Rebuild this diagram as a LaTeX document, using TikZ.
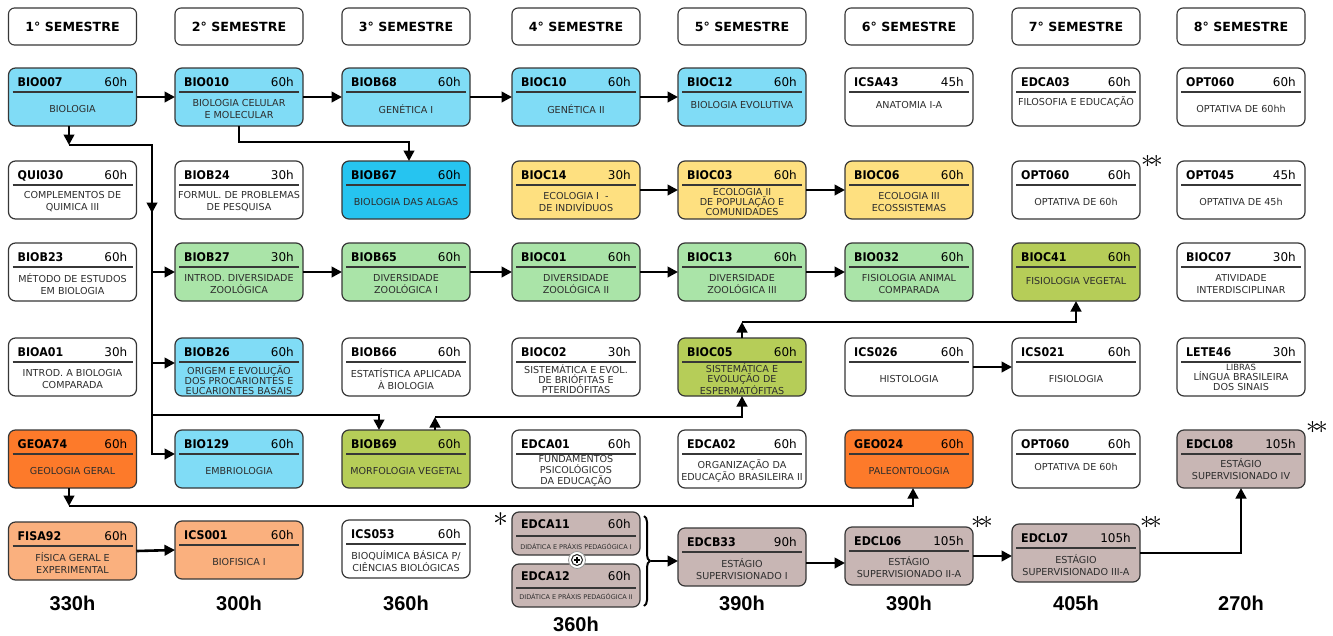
\documentclass[tikz,border=0pt]{standalone}
\usepackage{fontspec}
\setmainfont{DejaVu Sans}
\newfontfamily\codefont[FakeStretch=0.92]{DejaVu Sans}
\newfontfamily\totfont{Liberation Sans}
\usetikzlibrary{arrows.meta,decorations.pathreplacing,calc}

\definecolor{cblue}{RGB}{128,220,246}
\definecolor{cdeep}{RGB}{38,196,240}
\definecolor{cyel}{RGB}{254,224,128}
\definecolor{cgreen}{RGB}{170,228,168}
\definecolor{colive}{RGB}{182,205,88}
\definecolor{corange}{RGB}{253,122,42}
\definecolor{cpeach}{RGB}{250,176,126}
\definecolor{cmauve}{RGB}{200,182,180}
\definecolor{cborder}{RGB}{55,55,55}
\definecolor{ctext}{RGB}{45,45,45}

\tikzset{
 box/.style={draw=cborder, line width=1.2pt, rounded corners=7pt, minimum width=128pt, minimum height=58pt, inner sep=0pt, outer sep=0pt},
 smallbox/.style={box, minimum height=43pt, fill=cmauve},
 head/.style={draw=cborder, line width=1.1pt, rounded corners=6pt, minimum width=128pt, minimum height=37pt, inner sep=0pt, fill=white, font=\bfseries\fontsize{12.6}{14}\selectfont},
 codet/.style={inner sep=0pt, font=\codefont\bfseries\fontsize{12}{14}\selectfont},
 hrst/.style={inner sep=0pt, font=\fontsize{12}{14}\selectfont},
 desct/.style={inner sep=0pt, align=center, text=ctext, font=\fontsize{9.6}{12}\selectfont},
 tri/.style={font=\fontsize{9.6}{10}\selectfont},
 tiny/.style={font=\fontsize{6.5}{8}\selectfont},
 sepline/.style={draw=cborder, line width=1.3pt},
 conn/.style={draw=black, line width=2.6pt, -{Triangle[length=10.5pt,width=10.5pt]}},
 tot/.style={inner sep=0pt, font=\totfont\bfseries\fontsize{20}{22}\selectfont},
 stars/.style={inner sep=0pt, scale=2.6},
}

% #1 desc options, #2 name, #3 x, #4 top y, #5 fill, #6 code, #7 hours, #8 description
\newcommand\mkcourse[8][]{%
 \node[box, fill=#5, anchor=north] (#2) at (#3,#4) {};
 \node[codet, anchor=base west] (#2-c) at ([shift={(9pt,-18pt)}]#2.north west) {#6};
 \node[hrst, anchor=base east] (#2-h) at ([shift={(-9pt,-18pt)}]#2.north east) {#7};
 \draw[sepline] ([shift={(4pt,-24pt)}]#2.north west) -- ([shift={(-4pt,-24pt)}]#2.north east);
 \node[desct, #1] (#2-d) at ([yshift=-41pt]#2.north) {#8};
}
% #1 name, #2 x, #3 top y, #4 code, #5 hours, #6 description, #7 desc offset
\newcommand\mksmall[7]{%
 \node[smallbox, anchor=north] (#1) at (#2,#3) {};
 \node[codet, anchor=base west] (#1-c) at ([shift={(9pt,-16pt)}]#1.north west) {#4};
 \node[hrst, anchor=base east] (#1-h) at ([shift={(-9pt,-16pt)}]#1.north east) {#5};
 \draw[sepline] ([shift={(4pt,-24pt)}]#1.north west) -- ([shift={(-4pt,-24pt)}]#1.north east);
 \node[desct, tiny] (#1-d) at ([yshift=-#7]#1.north) {#6};
}

\begin{document}
\begin{tikzpicture}[x=1pt,y=-1pt]
\fill[white] (0,0) rectangle (1333,635);
\useasboundingbox (0,0) rectangle (1333,635);

% headers
\node[head] (h1) at (72.5,26.5) {1° SEMESTRE};
\node[head] (h2) at (239,26.5) {2° SEMESTRE};
\node[head] (h3) at (406,26.5) {3° SEMESTRE};
\node[head] (h4) at (576,26.5) {4° SEMESTRE};
\node[head] (h5) at (742,26.5) {5° SEMESTRE};
\node[head] (h6) at (909,26.5) {6° SEMESTRE};
\node[head] (h7) at (1076,26.5) {7° SEMESTRE};
\node[head] (h8) at (1241,26.5) {8° SEMESTRE};

% row 1
\mkcourse{bio007}{72.5}{68}{cblue}{BIO007}{60h}{BIOLOGIA}
\mkcourse{bio010}{239}{68}{cblue}{BIO010}{60h}{BIOLOGIA CELULAR\\E MOLECULAR}
\mkcourse{biob68}{406}{68}{cblue}{BIOB68}{60h}{GENÉTICA I}
\mkcourse{bioc10}{576}{68}{cblue}{BIOC10}{60h}{GENÉTICA II}
\mkcourse[yshift=4pt]{bioc12}{742}{68}{cblue}{BIOC12}{60h}{BIOLOGIA EVOLUTIVA}
\mkcourse[yshift=4pt]{icsa43}{909}{68}{white}{ICSA43}{45h}{ANATOMIA I-A}
\mkcourse[yshift=7pt]{edca03}{1076}{68}{white}{EDCA03}{60h}{FILOSOFIA E EDUCAÇÃO}
\mkcourse{opt060a}{1241}{68}{white}{OPT060}{60h}{OPTATIVA DE 60hh}

% row 2
\mkcourse{qui030}{72.5}{161}{white}{QUI030}{60h}{COMPLEMENTOS DE\\QUIMICA III}
\mkcourse{biob24}{239}{161}{white}{BIOB24}{30h}{FORMUL. DE PROBLEMAS\\DE PESQUISA}
\mkcourse{biob67}{406}{161}{cdeep}{BIOB67}{60h}{BIOLOGIA DAS ALGAS}
\mkcourse{bioc14}{576}{161}{cyel}{BIOC14}{30h}{ECOLOGIA I\ \ -\\DE INDIVÍDUOS}
\mkcourse[tri]{bioc03}{742}{161}{cyel}{BIOC03}{60h}{ECOLOGIA II\\DE POPULAÇÃO E\\COMUNIDADES}
\mkcourse{bioc06}{909}{161}{cyel}{BIOC06}{60h}{ECOLOGIA III\\ECOSSISTEMAS}
\mkcourse{opt060b}{1076}{161}{white}{OPT060}{60h}{OPTATIVA DE 60h}
\mkcourse{opt045}{1241}{161}{white}{OPT045}{45h}{OPTATIVA DE 45h}

% row 3
\mkcourse{biob23}{72.5}{243}{white}{BIOB23}{60h}{MÉTODO DE ESTUDOS\\EM BIOLOGIA}
\mkcourse{biob27}{239}{243}{cgreen}{BIOB27}{30h}{INTROD. DIVERSIDADE\\ZOOLÓGICA}
\mkcourse{biob65}{406}{243}{cgreen}{BIOB65}{60h}{DIVERSIDADE\\ZOOLÓGICA I}
\mkcourse{bioc01}{576}{243}{cgreen}{BIOC01}{60h}{DIVERSIDADE\\ZOOLÓGICA II}
\mkcourse{bioc13}{742}{243}{cgreen}{BIOC13}{60h}{DIVERSIDADE\\ZOOLÓGICA III}
\mkcourse{bio032}{909}{243}{cgreen}{BIO032}{60h}{FISIOLOGIA ANIMAL\\COMPARADA}
\mkcourse[yshift=3pt]{bioc41}{1076}{243}{colive}{BIOC41}{60h}{FISIOLOGIA VEGETAL}
\mkcourse{bioc07}{1241}{243}{white}{BIOC07}{30h}{ATIVIDADE\\INTERDISCIPLINAR}

% row 4
\mkcourse{bioa01}{72.5}{338}{white}{BIOA01}{30h}{INTROD. A BIOLOGIA\\COMPARADA}
\mkcourse[tri,yshift=-1pt]{biob26}{239}{338}{cblue}{BIOB26}{60h}{ORIGEM E EVOLUÇÃO\\DOS PROCARIONTES E\\EUCARIONTES BASAIS}
\mkcourse{biob66}{406}{338}{white}{BIOB66}{60h}{ESTATÍSTICA APLICADA\\À BIOLOGIA}
\mkcourse[tri]{bioc02}{576}{338}{white}{BIOC02}{30h}{SISTEMÁTICA E EVOL.\\DE BRIÓFITAS E\\PTERIDÓFITAS}
\mkcourse[tri]{bioc05}{742}{338}{colive}{BIOC05}{60h}{SISTEMÁTICA E\\EVOLUÇÃO DE\\ESPERMATÓFITAS}
\mkcourse{ics026}{909}{338}{white}{ICS026}{60h}{HISTOLOGIA}
\mkcourse{ics021}{1076}{338}{white}{ICS021}{60h}{FISIOLOGIA}
\mkcourse[tri,yshift=2pt]{lete46}{1241}{338}{white}{LETE46}{30h}{{\fontsize{8.5}{9}\selectfont LIBRAS}\\LÍNGUA BRASILEIRA\\DOS SINAIS}

% row 5
\mkcourse{geoa74}{72.5}{430}{corange}{GEOA74}{60h}{GEOLOGIA GERAL}
\mkcourse{bio129}{239}{430}{cblue}{BIO129}{60h}{EMBRIOLOGIA}
\mkcourse{biob69}{406}{430}{colive}{BIOB69}{60h}{MORFOLOGIA VEGETAL}
\mkcourse[font=\fontsize{9.6}{11}\selectfont]{edca01}{576}{430}{white}{EDCA01}{60h}{FUNDAMENTOS\\PSICOLÓGICOS\\DA EDUCAÇÃO}
\mkcourse{edca02}{742}{430}{white}{EDCA02}{60h}{ORGANIZAÇÃO DA\\EDUCAÇÃO BRASILEIRA II}
\mkcourse{geo024}{909}{430}{corange}{GEO024}{60h}{PALEONTOLOGIA}
\mkcourse[yshift=4pt]{opt060c}{1076}{430}{white}{OPT060}{60h}{OPTATIVA DE 60h}
\mkcourse[yshift=2pt]{edcl08}{1241}{430}{cmauve}{EDCL08}{105h}{ESTÁGIO\\SUPERVISIONADO IV}

% row 6
\mkcourse{fisa92}{72.5}{522}{cpeach}{FISA92}{60h}{FÍSICA GERAL E\\EXPERIMENTAL}
\mkcourse{ics001}{239}{521}{cpeach}{ICS001}{60h}{BIOFISICA I}
\mkcourse{ics053}{406}{520}{white}{ICS053}{60h}{BIOQUÍMICA BÁSICA P/\\CIÊNCIAS BIOLÓGICAS}
\mksmall{edca11}{576}{512}{EDCA11}{60h}{DIDÁTICA E PRÁXIS PEDAGÓGICA I}{35pt}
\mksmall{edca12}{576}{564}{EDCA12}{60h}{DIDÁTICA E PRÁXIS PEDAGÓGICA II}{33pt}
\mkcourse{edcb33}{742}{528}{cmauve}{EDCB33}{90h}{ESTÁGIO\\SUPERVISIONADO I}
\mkcourse[yshift=1pt]{edcl06}{909}{527}{cmauve}{EDCL06}{105h}{ESTÁGIO\\SUPERVISIONADO II-A}
\mkcourse{edcl07}{1076}{524}{cmauve}{EDCL07}{105h}{ESTÁGIO\\SUPERVISIONADO III-A}

% plus sign between EDCA11 and EDCA12
\node[circle, fill=white, draw=black!40, line width=0.8pt, minimum size=17pt, inner sep=0pt] (plus) at (577,560) {};
\node[circle, draw=black!85, line width=1pt, minimum size=11pt, inner sep=0pt] (plusin) at (plus) {};
\draw[line width=1.2pt] ([xshift=-3.3pt]plusin.center) -- ([xshift=3.3pt]plusin.center);
\draw[line width=1.2pt] ([yshift=-3.3pt]plusin.center) -- ([yshift=3.3pt]plusin.center);

% brace
\coordinate (br1) at (644,516);
\coordinate (br2) at (644,606);
\draw[decorate, decoration={brace, amplitude=6pt}, line width=2pt] (br1) -- (br2);
\coordinate (bt) at (651,561);

% asterisks
\node[stars, scale=1.15] (s0) at (501,520) {$\ast$};
\node[stars] (s1) at (1152,161) {$\ast\!\ast$};
\node[stars] (s2) at (982,522) {$\ast\!\ast$};
\node[stars] (s3) at (1151,522) {$\ast\!\ast$};
\node[stars] (s4) at (1317,427) {$\ast\!\ast$};

% totals
\node[tot] (t1) at (72.5,603) {330h};
\node[tot] (t2) at (239,603) {300h};
\node[tot] (t3) at (406,603) {360h};
\node[tot] (t4) at (576,624) {360h};
\node[tot] (t5) at (742,603) {390h};
\node[tot] (t6) at (909,603) {390h};
\node[tot] (t7) at (1076,603) {405h};
\node[tot] (t8) at (1241,603) {270h};

% ---------- connectors ----------
% row 1 chain
\draw[conn] (bio007.east) -- (bio010.west);
\draw[conn] (bio010.east) -- (biob68.west);
\draw[conn] (biob68.east) -- (bioc10.west);
\draw[conn] (bioc10.east) -- (bioc12.west);
% BIO010 -> BIOB67
\coordinate (p1) at ($(bio010.south)+(0,16)$);
\draw[conn] (bio010.south) -- (p1) -| ([xshift=3pt]biob67.north);
% BIO007 trunk
\coordinate (tS) at ([xshift=-3.5pt]bio007.south);
\coordinate (tA) at ($(tS)+(0,19)$);
\coordinate (tB) at (152,145);
\coordinate (tM) at (152,213);
\coordinate (tC) at (152,415);
\coordinate (b26) at ([yshift=4pt]biob26.west);
\coordinate (b129) at ([yshift=5pt]bio129.west);
\coordinate (b69) at ([xshift=-27pt]biob69.north);
\draw[conn] (tS) -- (tA);
\draw[conn] (tA) -- (tB) |- (b129);
\draw[conn] (tB) -- (tM);
\draw[conn] (tB |- biob27.west) -- (biob27.west);
\draw[conn] (tB |- b26) -- (b26);
\draw[conn] (tC) -| (b69);
% row 3 chain
\draw[conn] (biob27.east) -- (biob65.west);
\draw[conn] (biob65.east) -- (bioc01.west);
\draw[conn] (bioc01.east) -- (bioc13.west);
\draw[conn] (bioc13.east) -- (bio032.west);
% row 2 chain
\draw[conn] (bioc14.east) -- (bioc03.west);
\draw[conn] (bioc03.east) -- (bioc06.west);
% BIOB69 -> BIOC05
\coordinate (k0) at ([xshift=29pt]biob69.north);
\coordinate (k1) at ($(k0)+(0,-13)$);
\draw[conn] (k0) -- (k1);
\draw[conn] (k1) -| (bioc05.south);
% BIOC05 -> BIOC41
\coordinate (q1) at ($(bioc05.north)+(0,-16)$);
\draw[conn] (bioc05.north) -- (q1);
\draw[conn] (q1) -| (bioc41.south);
% ICS026 -> ICS021
\draw[conn] (ics026.east) -- (ics021.west);
% GEOA74 -> GEO024
\coordinate (g0) at ([xshift=-3.5pt]geoa74.south);
\coordinate (g1) at ($(g0)+(0,18)$);
\draw[conn] (g0) -- (g1);
\draw[conn] (g1) -| ([xshift=4pt]geo024.south);
% FISA92 -> ICS001
\draw[conn] (fisa92.east) -- (ics001.west);
% bottom chain
\draw[conn] (bt) -- (bt -| edcb33.west);
\coordinate (e1) at ([yshift=-6pt]edcb33.east);
\draw[conn] (e1) -- (e1 -| edcl06.west);
\draw[conn] (edcl06.east) -- (edcl06.east -| edcl07.west);
\draw[conn] (edcl07.east) -| (edcl08.south);
\end{tikzpicture}
\end{document}
